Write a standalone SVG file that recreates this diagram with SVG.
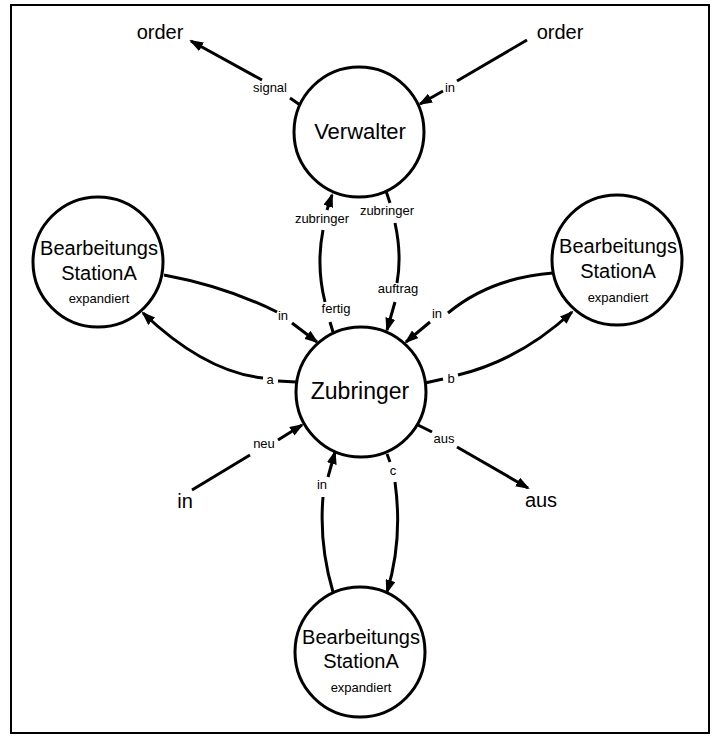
<svg xmlns="http://www.w3.org/2000/svg" width="713" height="736" viewBox="0 0 713 736">
  <style>
    .frame { fill: #fff; stroke: #000; stroke-width: 2; }
    .node { fill: #fff; stroke: #000; stroke-width: 3; }
    .edge { fill: none; stroke: #000; stroke-width: 3; stroke-linecap: butt; }
    .arr { marker-end: url(#head); }
    text { font-family: "Liberation Sans", Arial, sans-serif; fill: #000; text-anchor: middle; }
    .big { font-size: 20px; }
    .title { font-size: 22px; }
    .sub { font-size: 13px; }
    .lbl { font-size: 13px; }
  </style>
  <defs>
    <marker id="head" viewBox="0 0 14 10" refX="12" refY="5" markerWidth="14" markerHeight="10" markerUnits="userSpaceOnUse" orient="auto">
      <path d="M0,0 L14,5 L0,10 z" fill="#000"/>
    </marker>
  </defs>

  <rect class="frame" x="11" y="5" width="698" height="728"/>

  <!-- connectors -->
  <g id="connectors">
    <!-- Verwalter.signal -> order -->
    <path class="edge" d="M303,107 L290,98"/>
    <path class="edge arr" d="M262,80 L191,41"/>
    <!-- order -> Verwalter.in -->
    <path class="edge" d="M527,40 L457,81"/>
    <path class="edge arr" d="M443,91 L420,104"/>
    <!-- Zubringer.fertig -> Verwalter.zubringer -->
    <path class="edge" d="M330,322 L333,332"/>
    <path class="edge" d="M325,302 Q316,266 323,230"/>
    <path class="edge arr" d="M327,210 L332,195"/>
    <!-- Verwalter.zubringer -> Zubringer.auftrag -->
    <path class="edge" d="M386,191 L390,203"/>
    <path class="edge" d="M395,223 Q402,255 397,283"/>
    <path class="edge arr" d="M395,302 L387,330"/>
    <!-- left station -> Zubringer.in -->
    <path class="edge" d="M164,275 C207,283 247,297 277,312"/>
    <path class="edge arr" d="M292,323 L317,342"/>
    <!-- Zubringer.a -> left station -->
    <path class="edge" d="M296,382 L278,381"/>
    <path class="edge arr" d="M263,378 Q205,372 143,313"/>
    <!-- right station -> Zubringer.in -->
    <path class="edge" d="M553,273 Q490,278 448,313"/>
    <path class="edge arr" d="M430,322 L406,342"/>
    <!-- Zubringer.b -> right station -->
    <path class="edge" d="M425,383 L443,379"/>
    <path class="edge arr" d="M458,375 Q520,360 572,312"/>
    <!-- in -> Zubringer.neu -->
    <path class="edge" d="M192,490 L250,455"/>
    <path class="edge arr" d="M278,440 L302,425"/>
    <!-- Zubringer.aus -> aus -->
    <path class="edge" d="M418,425 L432,432"/>
    <path class="edge arr" d="M457,447 L528,488"/>
    <!-- bottom station -> Zubringer.in -->
    <path class="edge" d="M333,592 Q319,545 323,497"/>
    <path class="edge arr" d="M328,477 L335,452"/>
    <!-- Zubringer.c -> bottom station -->
    <path class="edge" d="M387,454 L390,462"/>
    <path class="edge arr" d="M395,482 Q403,540 387,592"/>

    <text class="lbl" x="270" y="92">signal</text>
    <text class="lbl" x="450" y="92">in</text>
    <text class="lbl" x="322" y="223">zubringer</text>
    <text class="lbl" x="387" y="215">zubringer</text>
    <text class="lbl" x="336" y="313">fertig</text>
    <text class="lbl" x="398" y="293">auftrag</text>
    <text class="lbl" x="283" y="320">in</text>
    <text class="lbl" x="437" y="318">in</text>
    <text class="lbl" x="270" y="384">a</text>
    <text class="lbl" x="451" y="383">b</text>
    <text class="lbl" x="264" y="448">neu</text>
    <text class="lbl" x="444" y="443">aus</text>
    <text class="lbl" x="322" y="489">in</text>
    <text class="lbl" x="393" y="475">c</text>
  </g>

  <!-- external ports -->
  <g id="order-out"><text class="big" x="160" y="39">order</text></g>
  <g id="order-in"><text class="big" x="560" y="39">order</text></g>
  <g id="port-in"><text class="big" x="185" y="508">in</text></g>
  <g id="port-aus"><text class="big" x="541" y="507">aus</text></g>

  <!-- nodes -->
  <g id="verwalter">
    <circle class="node" cx="359" cy="132" r="65"/>
    <text class="title" x="360" y="139">Verwalter</text>
  </g>
  <g id="zubringer">
    <circle class="node" cx="361" cy="392" r="65"/>
    <text class="title" x="360" y="399" style="font-size:23px">Zubringer</text>
  </g>
  <g id="station-left">
    <circle class="node" cx="98" cy="262" r="65"/>
    <text class="big" x="99" y="255">Bearbeitungs</text>
    <text class="big" x="99" y="280">StationA</text>
    <text class="sub" x="99" y="303">expandiert</text>
  </g>
  <g id="station-right">
    <circle class="node" cx="617" cy="260" r="65"/>
    <text class="big" x="618" y="253">Bearbeitungs</text>
    <text class="big" x="618" y="278">StationA</text>
    <text class="sub" x="618" y="302">expandiert</text>
  </g>
  <g id="station-bottom">
    <circle class="node" cx="360" cy="652" r="65"/>
    <text class="big" x="361" y="644">Bearbeitungs</text>
    <text class="big" x="361" y="668">StationA</text>
    <text class="sub" x="361" y="692">expandiert</text>
  </g>
</svg>
